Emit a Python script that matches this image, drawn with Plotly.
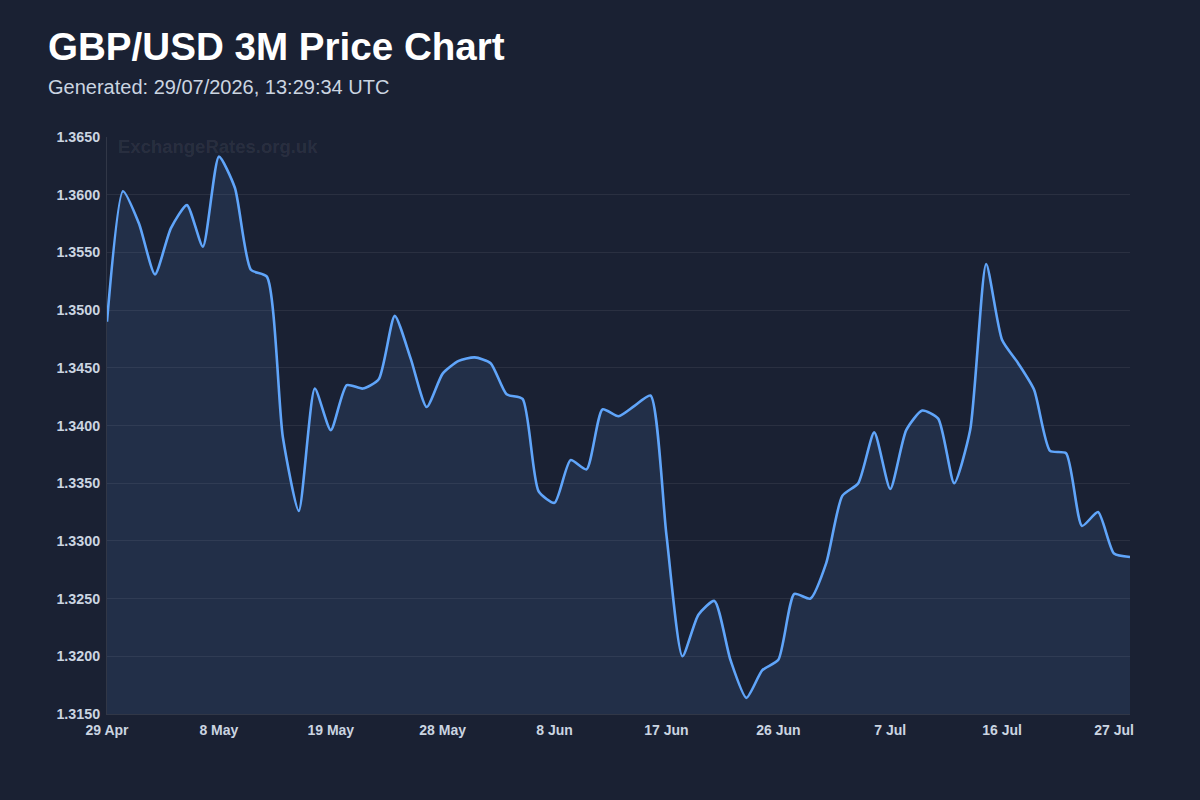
import plotly.graph_objects as go
import pandas as pd

# Trading days (weekdays) 29 Apr 2026 -> 28 Jul 2026
dates = list(pd.bdate_range("2026-04-29", "2026-07-28"))
labels = [f"{d.day} {d.strftime('%b')}" for d in dates]

rates = [
    1.3490, 1.3603, 1.3575, 1.3531, 1.3571, 1.3591, 1.3555, 1.3633, 1.3606, 1.3535,
    1.3529, 1.3390, 1.3326, 1.3432, 1.3396, 1.3435, 1.3432, 1.3440, 1.3495, 1.3458,
    1.3416, 1.3445, 1.3456, 1.3459, 1.3454, 1.3427, 1.3423, 1.3343, 1.3333, 1.3370,
    1.3362, 1.3414, 1.3408, 1.3417, 1.3426, 1.3305, 1.3200, 1.3236, 1.3248, 1.3197,
    1.3164, 1.3188, 1.3197, 1.3254, 1.3250, 1.3281, 1.3339, 1.3350, 1.3394, 1.3345,
    1.3396, 1.3413, 1.3406, 1.3350, 1.3396, 1.3540, 1.3474, 1.3454, 1.3431, 1.3378,
    1.3376, 1.3313, 1.3325, 1.3289, 1.3286,
]

tick_labels = ["29 Apr", "8 May", "19 May", "28 May", "8 Jun", "17 Jun",
               "26 Jun", "7 Jul", "16 Jul", "27 Jul"]
y_ticks = [1.3150, 1.3200, 1.3250, 1.3300, 1.3350, 1.3400, 1.3450, 1.3500,
           1.3550, 1.3600, 1.3650]

title = "GBP/USD 3M Price Chart"
subtitle = "Generated: 29/07/2026, 13:29:34 UTC"
watermark = "ExchangeRates.org.uk"

BG = "#1a2133"
LINE = "#60a5fa"
TXT = "#cbd5e1"
FONT = "Liberation Sans, Arial, Helvetica, sans-serif"

fig = go.Figure()
fig.add_trace(go.Scatter(
    x=labels, y=rates, mode="lines",
    line=dict(color=LINE, width=2.6, shape="spline", smoothing=0.6),
    fill="tozeroy", fillcolor="rgba(96,165,250,0.11)",
    hoverinfo="skip", showlegend=False,
))

fig.update_layout(
    width=1200, height=800,
    paper_bgcolor=BG, plot_bgcolor=BG,
    margin=dict(l=107, r=70, t=137, b=86),
    font=dict(family=FONT, color=TXT),
    xaxis=dict(
        type="category", range=[0, len(labels) - 1],
        tickmode="array", tickvals=tick_labels, ticktext=tick_labels,
        showgrid=False, zeroline=False,
        showline=True, linecolor="rgba(255,255,255,0.10)", linewidth=1,
        ticks="", ticklen=0, ticklabelstandoff=3,
        tickfont=dict(family=FONT, size=14, color=TXT, weight="bold"),
    ),
    yaxis=dict(
        range=[1.3150, 1.3650],
        tickmode="array", tickvals=y_ticks,
        ticktext=[f"{v:.4f}" for v in y_ticks],
        showgrid=True, gridcolor="rgba(255,255,255,0.07)", gridwidth=1,
        zeroline=False,
        showline=True, linecolor="rgba(255,255,255,0.10)", linewidth=1,
        ticks="", ticklen=0, ticklabelstandoff=3,
        tickfont=dict(family=FONT, size=14.3, color=TXT, weight="bold"),
    ),
    annotations=[
        dict(text=title, xref="paper", yref="paper",
             x=(46 - 107) / 1023, y=(714 - 46) / 577,
             xanchor="left", yanchor="middle", showarrow=False,
             font=dict(family=FONT, size=38.6, color="#ffffff", weight="bold")),
        dict(text=subtitle, xref="paper", yref="paper",
             x=(46 - 107) / 1023, y=(714 - 87) / 577,
             xanchor="left", yanchor="middle", showarrow=False,
             font=dict(family=FONT, size=20, color=TXT)),
        dict(text=watermark, xref="paper", yref="paper",
             x=9 / 1023, y=(714 - 147) / 577,
             xanchor="left", yanchor="middle", showarrow=False,
             font=dict(family=FONT, size=18.5, color="rgba(255,255,255,0.08)",
                       weight="bold")),
    ],
)

fig.write_html("out.html")
